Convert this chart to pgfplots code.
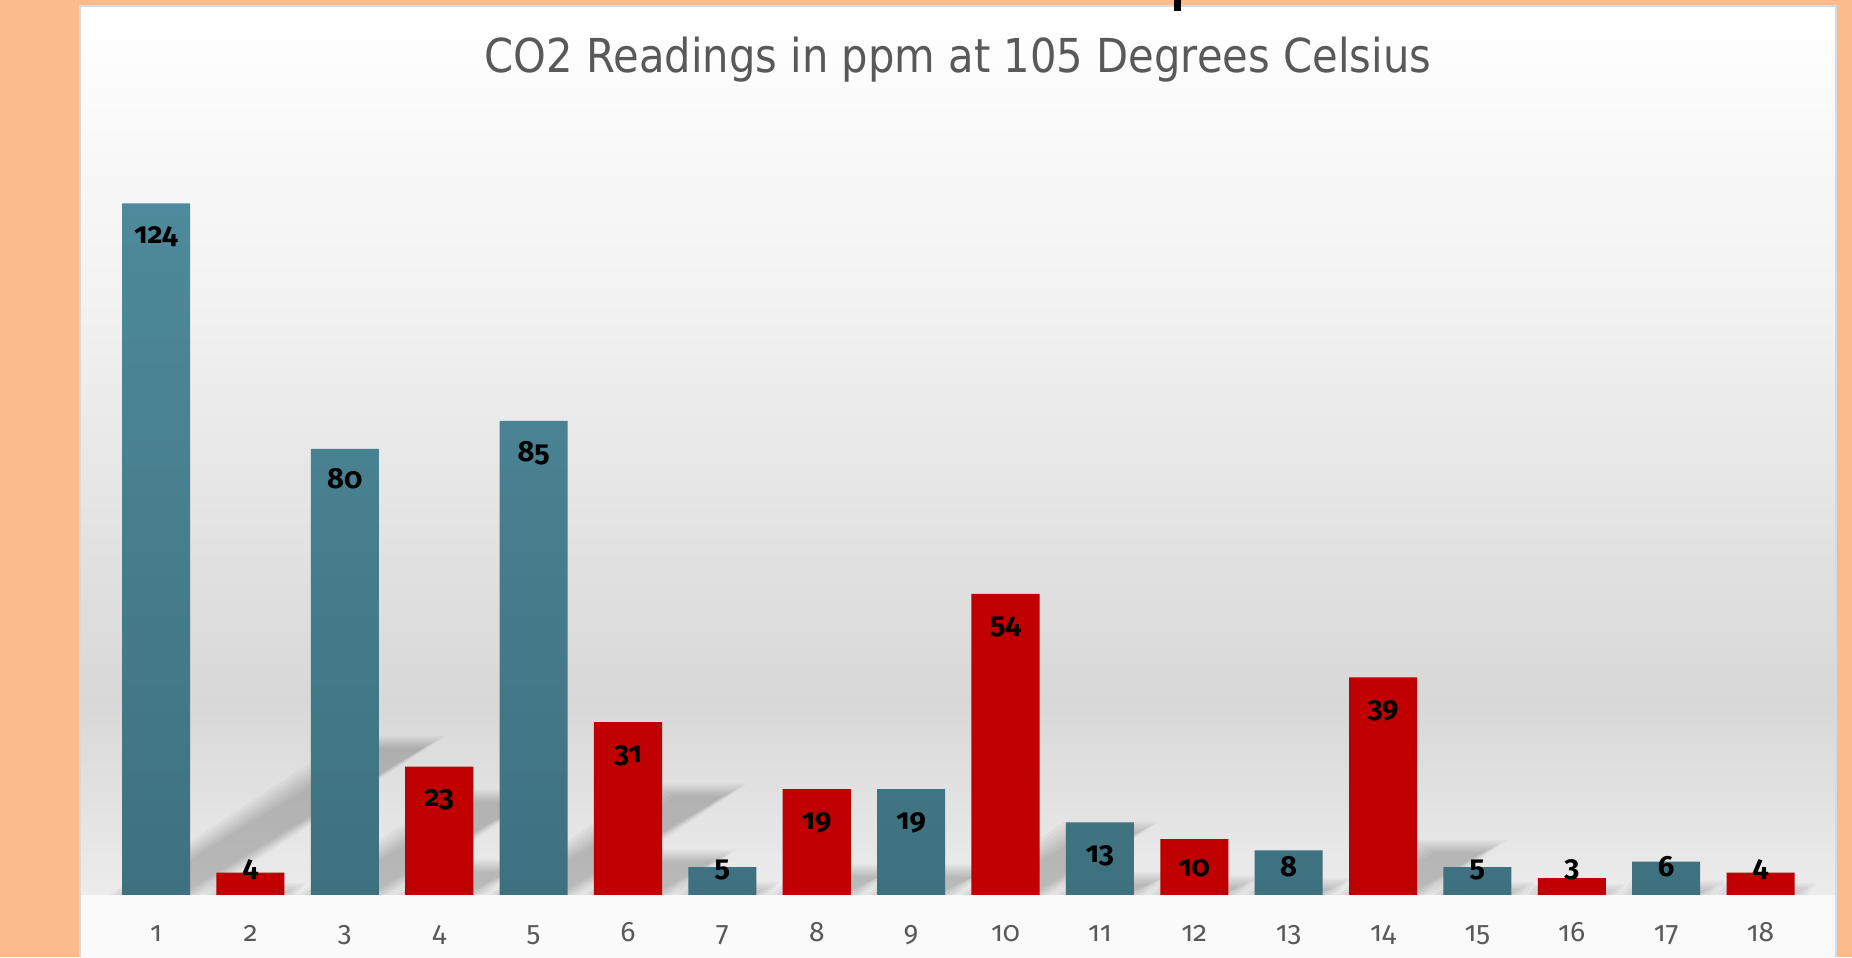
\documentclass[border=0pt]{standalone}
\usepackage{pgfplots}
\pgfplotsset{compat=1.18}
\usepackage{fontspec}
\setmainfont{Fira Sans}
\newfontfamily\numfont{Fira Sans}[Numbers=OldStyle]
\newfontfamily\titlefont{DejaVu Sans}
\definecolor{orangebg}{HTML}{FBBB8B}
\definecolor{panelborder}{HTML}{D9D9D9}
\definecolor{bgA}{HTML}{F2F2F2}
\definecolor{bgB}{HTML}{E5E5E5}
\definecolor{bgC}{HTML}{D8D8D8}
\definecolor{bgD}{HTML}{ECECEC}
\definecolor{bgE}{HTML}{FAFAFA}
\definecolor{tealtop}{HTML}{4E8A9B}
\definecolor{tealbot}{HTML}{3E717F}
\definecolor{barred}{HTML}{C00000}
\definecolor{textgray}{HTML}{595959}
\begin{document}
\begin{tikzpicture}[x=0.01cm,y=0.01cm]
\useasboundingbox (0,0) rectangle (1852,957);
\fill[orangebg] (0,0) rectangle (1852,957);
% panel background
\fill[top color=white,bottom color=bgA] (80,656) rectangle (1836,951);
\fill[top color=bgA,bottom color=bgB] (80,456) rectangle (1836,657);
\fill[top color=bgB,bottom color=bgC] (80,256) rectangle (1836,457);
\fill[top color=bgC,bottom color=bgD] (80,61) rectangle (1836,257);
\fill[top color=bgE,bottom color=bgE] (80,0) rectangle (1836,62);
\draw[panelborder, line width=0.02cm] (80,0) -- (80,951) -- (1836,951) -- (1836,0);
\fill[black] (1174,946) rectangle (1181,957);
% title
\node[anchor=base, text=textgray, inner sep=0pt] at (958,884)
  {\resizebox{9.46cm}{\height}{\titlefont\fontsize{13.3pt}{16pt}\selectfont CO2 Readings in ppm at 105 Degrees Celsius}};
\begin{axis}[
  at={(0.8cm,0.62cm)}, anchor=south west,
  scale only axis, width=17.56cm, height=8.89cm,
  xmin=0.1942, xmax=18.811, ymin=0, ymax=159.5,
  axis line style={draw=none},
  major tick length=0pt,
  ytick=\empty,
  xtick={1,2,3,4,5,6,7,8,9,10,11,12,13,14,15,16,17,18},
  xticklabels={1,2,3,4,5,6,7,8,9,10,11,12,13,14,15,16,17,18},
  xticklabel style={anchor=base, yshift=-0.46cm, inner sep=0pt,
    font=\numfont\fontsize{8pt}{9pt}\selectfont, text=textgray},
]
% perspective shadows (decoration derived from the bar heights)
\pgfplotsforeachungrouped \i/\v in {1/124,2/4,3/80,4/23,5/85,6/31,7/5,8/19,9/19,10/54,11/13,12/10,13/8,14/39,15/5,16/3,17/6,18/4}{%
  \pgfplotsforeachungrouped \e/\t in {-0.1/-0.9, -0.06/-0.54, -0.02/-0.18, 0.02/0.18, 0.06/0.54, 0.1/0.9, 0.14/1.26}{%
    \edef\temp{\noexpand\fill[black, opacity=0.03]
      (axis cs:{\i-0.36-\e},0) -- (axis cs:{\i+0.36+\e},0) --
      (axis cs:{\i+0.36+\e+0.0207*\v},{0.22*\v+\t}) --
      (axis cs:{\i-0.36-\e+0.0207*\v},{0.22*\v+\t}) -- cycle;}%
    \temp
  }%
}
\addplot[ybar, bar width=0.68cm, bar shift=0pt, draw=none,
  top color=tealtop, bottom color=tealbot]
  coordinates {(1,124) (3,80) (5,85) (7,5) (9,19) (11,13) (13,8) (15,5) (17,6)};
\addplot[ybar, bar width=0.68cm, bar shift=0pt, draw=none, fill=barred]
  coordinates {(2,4) (4,23) (6,31) (8,19) (10,54) (12,10) (14,39) (16,3) (18,4)};
\addplot[draw=none, mark=none, nodes near coords, point meta=explicit symbolic,
  nodes near coords style={anchor=base, inner sep=0pt, text=black,
    font=\numfont\bfseries\fontsize{8.3pt}{9pt}\selectfont}]
  coordinates {(1,116.8) [124] (2,3.4) [4] (3,72.8) [80] (4,15.8) [23]
    (5,77.8) [85] (6,23.8) [31] (7,3.4) [5] (8,11.8) [19] (9,11.8) [19]
    (10,46.8) [54] (11,5.8) [13] (12,3.4) [10] (13,3.4) [8] (14,31.8) [39]
    (15,3.4) [5] (16,3.4) [3] (17,3.4) [6] (18,3.4) [4]};
\end{axis}
\end{tikzpicture}
\end{document}
